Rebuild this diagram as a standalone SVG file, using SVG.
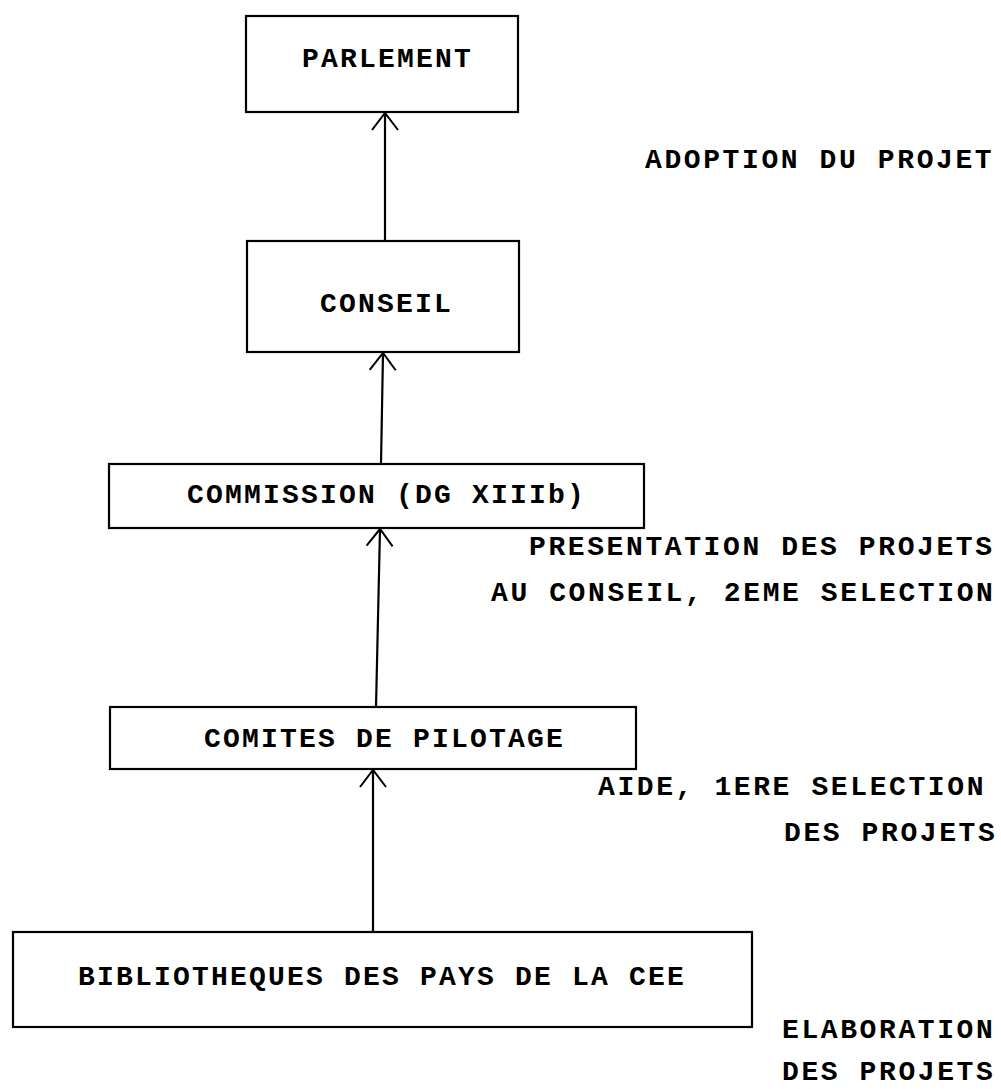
<svg xmlns="http://www.w3.org/2000/svg" width="1001" height="1089" viewBox="0 0 1001 1089">
<style>
.box{fill:#fff;stroke:#000;stroke-width:2.2}
.bt{font-family:"Liberation Mono",monospace;font-weight:bold;font-size:28px;letter-spacing:2.2px;fill:#000}
.lb{font-family:"Liberation Mono",monospace;font-weight:bold;font-size:28px;letter-spacing:2.6px;fill:#000}
.conn{stroke:#000;stroke-width:2.2;fill:none}
</style>
<defs>
<marker id="ah" markerUnits="userSpaceOnUse" viewBox="-20 -16 24 32" markerWidth="24" markerHeight="32" refX="0" refY="0" orient="auto" overflow="visible">
<path d="M -17 -13 L 0 0 L -17 13" fill="none" stroke="#000" stroke-width="2"/>
</marker>
</defs>
<rect width="1001" height="1089" fill="#fff"/>
<g id="connectors">
<line class="conn" x1="385" y1="241" x2="385" y2="113" marker-end="url(#ah)"/>
<line class="conn" x1="381" y1="464" x2="383" y2="353" marker-end="url(#ah)"/>
<line class="conn" x1="376" y1="707" x2="380" y2="529" marker-end="url(#ah)"/>
<line class="conn" x1="373" y1="932" x2="373" y2="770" marker-end="url(#ah)"/>
</g>
<g id="parlement">
<rect class="box" x="246" y="16" width="272" height="96"/>
<text class="bt" x="302" y="67">PARLEMENT</text>
</g>
<g id="conseil">
<rect class="box" x="247" y="241" width="272" height="111"/>
<text class="bt" x="320" y="312">CONSEIL</text>
</g>
<g id="commission">
<rect class="box" x="109" y="464" width="535" height="64"/>
<text class="bt" x="187" y="503">COMMISSION (DG XIIIb)</text>
</g>
<g id="comites">
<rect class="box" x="110" y="707" width="526" height="62"/>
<text class="bt" x="204" y="747">COMITES DE PILOTAGE</text>
</g>
<g id="bibliotheques">
<rect class="box" x="13" y="932" width="739" height="95"/>
<text class="bt" x="78" y="985">BIBLIOTHEQUES DES PAYS DE LA CEE</text>
</g>
<g id="labels">
<text class="lb" x="645" y="168">ADOPTION DU PROJET</text>
<text class="lb" x="529" y="555">PRESENTATION DES PROJETS</text>
<text class="lb" x="491" y="601">AU CONSEIL, 2EME SELECTION</text>
<text class="lb" x="598" y="795">AIDE, 1ERE SELECTION</text>
<text class="lb" x="784" y="841">DES PROJETS</text>
<text class="lb" x="782" y="1038">ELABORATION</text>
<text class="lb" x="782" y="1080">DES PROJETS</text>
</g>
</svg>
